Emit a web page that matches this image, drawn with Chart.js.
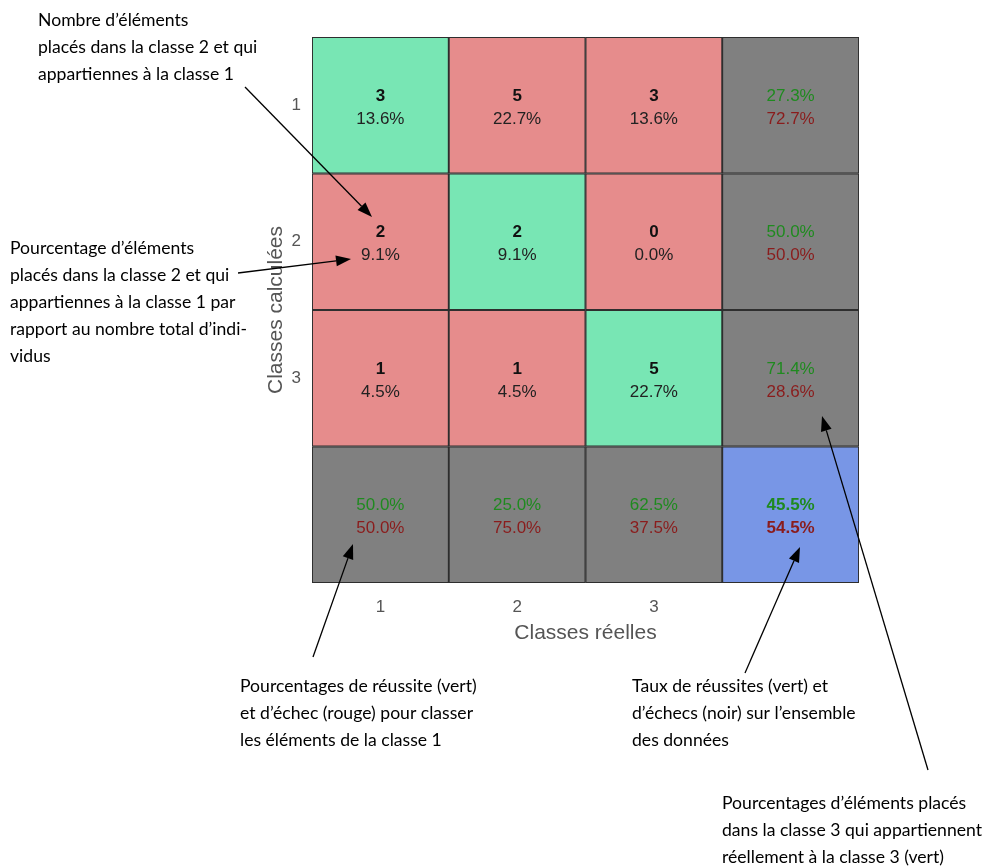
<!DOCTYPE html>
<html>
<head>
<meta charset="utf-8">
<script src="https://cdn.jsdelivr.net/npm/chart.js@4.4.0/dist/chart.umd.min.js"></script>
<style>
  html, body { margin: 0; padding: 0; background: #fff; }
  #wrap { width: 987px; height: 866px; }
</style>
</head>
<body>
<div id="wrap"><canvas id="matrix" width="987" height="866"></canvas></div>
<script>
// classes (rows = classes calculées, columns = classes réelles)
const classes = ['1', '2', '3'];
const counts = [
  [3, 5, 3],
  [2, 2, 0],
  [1, 1, 5],
];
const cellPct = [
  [13.6, 22.7, 13.6],
  [9.1, 9.1, 0.0],
  [4.5, 4.5, 22.7],
];
const rowSuccess = [27.3, 50.0, 71.4];
const rowFail = [72.7, 50.0, 28.6];
const colSuccess = [50.0, 25.0, 62.5];
const colFail = [50.0, 75.0, 37.5];
const totalSuccess = 45.5;
const totalFail = 54.5;

const GREEN = '#78e6b4';
const RED = '#e68c8c';
const GRAY = '#808080';
const BLUE = '#7896e6';
const SANS = '"Liberation Sans", Arial, sans-serif';

// one dataset per row, one floating bar per column
const xLabels = [...classes, ''];
const datasets = [];
for (let r = 0; r < 4; r++) {
  const colors = [];
  for (let c = 0; c < 4; c++) {
    if (r === 3 && c === 3) colors.push(BLUE);
    else if (r === 3 || c === 3) colors.push(GRAY);
    else colors.push(r === c ? GREEN : RED);
  }
  datasets.push({
    data: xLabels.map(() => [r, r + 1]),
    backgroundColor: colors,
    borderColor: '#2e2e2e',
    borderWidth: 1.3,
    borderSkipped: false,
    barPercentage: 1,
    categoryPercentage: 1,
  });
}

function fmt(v) { return v.toFixed(1) + '%'; }

// text written in each cell
const cellText = {
  id: 'cellText',
  afterDatasetsDraw(chart) {
    const ctx = chart.ctx;
    ctx.save();
    ctx.textAlign = 'center';
    ctx.textBaseline = 'middle';
    chart.data.datasets.forEach((ds, r) => {
      chart.getDatasetMeta(r).data.forEach((bar, c) => {
        const p = bar.getProps(['x', 'y', 'base'], true);
        const cy = (p.y + p.base) / 2;
        if (r < 3 && c < 3) {
          ctx.font = 'bold 17px ' + SANS;
          ctx.fillStyle = '#111';
          ctx.fillText(String(counts[r][c]), p.x, cy - 9);
          ctx.font = '17px ' + SANS;
          ctx.fillStyle = '#222';
          ctx.fillText(fmt(cellPct[r][c]), p.x, cy + 14);
          return;
        }
        let top, bottom, bold = false;
        if (r === 3 && c === 3) {
          top = fmt(totalSuccess); bottom = fmt(totalFail); bold = true;
        } else if (c === 3) {
          top = fmt(rowSuccess[r]); bottom = fmt(rowFail[r]);
        } else {
          top = fmt(colSuccess[c]); bottom = fmt(colFail[c]);
        }
        ctx.font = (bold ? 'bold ' : '') + '17px ' + SANS;
        ctx.fillStyle = '#1f8a1f';
        ctx.fillText(top, p.x, cy - 9);
        ctx.fillStyle = '#8a1c1c';
        ctx.fillText(bottom, p.x, cy + 14);
      });
    });
    ctx.restore();
  }
};

// explanatory notes and arrows around the matrix
const notes = [
  { x: 38, y: 20, lines: ['Nombre d\u2019éléments', 'placés dans la classe 2 et qui', 'appartiennes à la classe 1'] },
  { x: 10, y: 248, lines: ['Pourcentage d\u2019éléments', 'placés dans la classe 2 et qui', 'appartiennes à la classe 1 par', 'rapport au nombre total d\u2019indi-', 'vidus'] },
  { x: 240, y: 686, lines: ['Pourcentages de réussite (vert)', 'et d\u2019échec (rouge) pour classer', 'les éléments de la classe 1'] },
  { x: 632, y: 686, lines: ['Taux de réussites (vert) et', 'd\u2019échecs (noir) sur l\u2019ensemble', 'des données'] },
  { x: 722, y: 803, lines: ['Pourcentages d\u2019éléments placés', 'dans la classe 3 qui appartiennent', 'réellement à la classe 3 (vert)'] },
];
const arrows = [
  [245, 87, 372, 217],
  [238, 273, 351, 259],
  [313, 657, 353, 544],
  [745, 673, 800, 547],
  [928, 770, 822, 416],
];

const annotations = {
  id: 'annotations',
  afterDraw(chart) {
    const ctx = chart.ctx;
    ctx.save();
    ctx.fillStyle = '#000';
    ctx.font = '17.6px Lato, "Open Sans", sans-serif';
    ctx.textAlign = 'left';
    ctx.textBaseline = 'middle';
    notes.forEach(n => {
      n.lines.forEach((t, i) => ctx.fillText(t, n.x, n.y + i * 27));
    });
    ctx.strokeStyle = '#000';
    ctx.lineWidth = 1.3;
    arrows.forEach(([x1, y1, x2, y2]) => {
      const a = Math.atan2(y2 - y1, x2 - x1);
      const len = 15, half = 5.5;
      const bx = x2 - len * Math.cos(a), by = y2 - len * Math.sin(a);
      ctx.beginPath();
      ctx.moveTo(x1, y1);
      ctx.lineTo(bx, by);
      ctx.stroke();
      ctx.beginPath();
      ctx.moveTo(x2, y2);
      ctx.lineTo(bx + half * Math.sin(a), by - half * Math.cos(a));
      ctx.lineTo(bx - half * Math.sin(a), by + half * Math.cos(a));
      ctx.closePath();
      ctx.fill();
    });
    ctx.restore();
  }
};

new Chart(document.getElementById('matrix'), {
  type: 'bar',
  data: { labels: xLabels, datasets: datasets },
  plugins: [cellText, annotations],
  options: {
    responsive: false,
    animation: false,
    layout: { padding: { left: 260, top: 37, right: 128, bottom: 216 } },
    plugins: { legend: { display: false }, tooltip: { enabled: false } },
    scales: {
      x: {
        stacked: true,
        grid: { display: false },
        border: { display: false },
        ticks: { padding: 6, color: '#555', font: { family: SANS, size: 17 } },
        title: { display: true, text: 'Classes réelles', color: '#555', font: { family: SANS, size: 21 } },
        afterFit(scale) { scale.height = 67; },
      },
      y: {
        reverse: true,
        min: 0,
        max: 4,
        grid: { display: false },
        border: { display: false },
        afterBuildTicks(scale) {
          scale.ticks = classes.map((c, i) => ({ value: i + 0.5 }));
        },
        ticks: {
          padding: 3,
          color: '#555',
          font: { family: SANS, size: 17 },
          callback: (v) => classes[Math.floor(v)],
        },
        title: { display: true, text: 'Classes calculées', color: '#555', font: { family: SANS, size: 21 } },
        afterFit(scale) { scale.width = 52; },
      },
    },
  },
});
</script>
</body>
</html>
